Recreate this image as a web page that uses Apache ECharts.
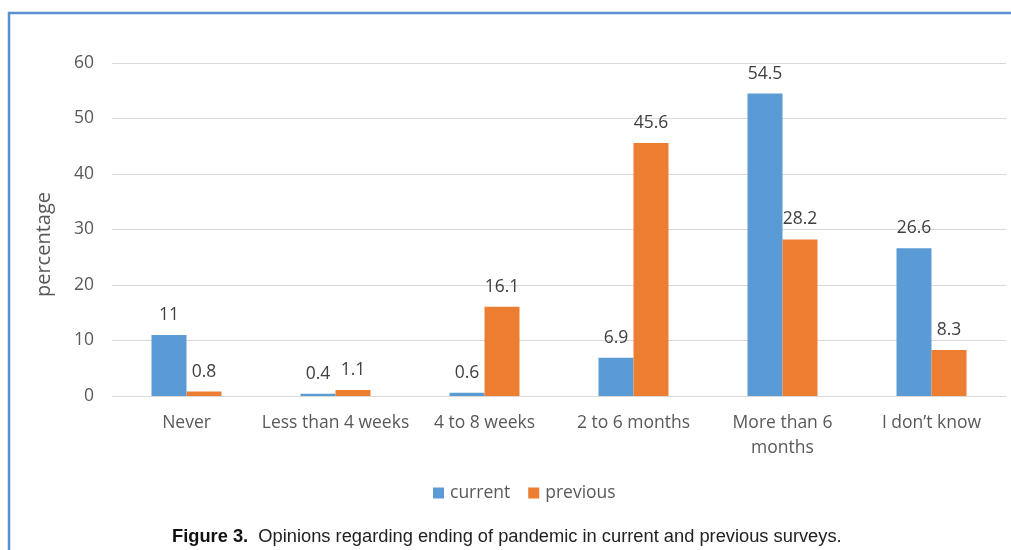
<!DOCTYPE html>
<html>
<head>
<meta charset="utf-8">
<script src="https://cdn.jsdelivr.net/npm/echarts@6/dist/echarts.min.js"></script>
<style>
  html, body { margin: 0; padding: 0; background: #fff; }
  #chart { width: 1011px; height: 550px; }
</style>
</head>
<body>
<div id="chart"></div>
<script>
// survey answers
const categories = ['Never', 'Less than 4 weeks', '4 to 8 weeks', '2 to 6 months', 'More than 6 months', 'I don\u2019t know'];
const currentValues = [11, 0.4, 0.6, 6.9, 54.5, 26.6];
const previousValues = [0.8, 1.1, 16.1, 45.6, 28.2, 8.3];
const seriesNames = ['current', 'previous'];
const yTicks = [0, 10, 20, 30, 40, 50, 60];

const textColor = '#595959';
const baseFont = '"Open Sans", "Noto Sans", sans-serif';

const chart = echarts.init(document.getElementById('chart'));

const labelStyle = {
    show: true,
    position: 'top',
    distance: 11,
    color: '#404040',
    fontSize: 17.5,
    fontFamily: baseFont
};

const option = {
    animation: false,
    textStyle: { fontFamily: baseFont },
    grid: { left: 112, right: 5, top: 63, bottom: 154 },
    legend: {
        data: seriesNames,
        bottom: 43,
        left: 428,
        itemWidth: 11,
        itemHeight: 11,
        itemGap: 18,
        icon: 'rect',
        textStyle: { color: textColor, fontSize: 17.5, fontFamily: baseFont, padding: [0, 0, 0, 1] }
    },
    xAxis: {
        type: 'category',
        data: categories,
        axisLine: { lineStyle: { color: '#d9d9d9', width: 1 } },
        axisTick: { show: false },
        axisLabel: {
            color: textColor,
            fontSize: 17.5,
            margin: 15,
            lineHeight: 25,
            interval: 0,
            formatter: v => v === 'More than 6 months' ? 'More than 6\nmonths' : v
        }
    },
    yAxis: {
        type: 'value',
        min: yTicks[0],
        max: yTicks[yTicks.length - 1],
        interval: 10,
        name: 'percentage',
        nameLocation: 'middle',
        nameGap: 58,
        nameTextStyle: { color: textColor, fontSize: 20, fontFamily: baseFont, padding: [0, 30, 0, 0] },
        axisLine: { show: false },
        axisTick: { show: false },
        axisLabel: { color: textColor, fontSize: 17.5, margin: 18 },
        splitLine: { lineStyle: { color: '#d9d9d9', width: 1 } }
    },
    series: [
        {
            name: seriesNames[0],
            type: 'bar',
            data: currentValues,
            barWidth: 35,
            barGap: '0%',
            itemStyle: { color: '#5b9bd5' },
            label: labelStyle
        },
        {
            name: seriesNames[1],
            type: 'bar',
            data: previousValues,
            barWidth: 35,
            barGap: '0%',
            itemStyle: { color: '#ed7d31' },
            label: labelStyle
        }
    ],
    graphic: [
        {
            type: 'rect',
            shape: { x: 9, y: 13, width: 1100, height: 600 },
            style: { fill: 'none', stroke: '#5b8fd0', lineWidth: 2.5 },
            silent: true
        },
        {
            type: 'text',
            left: 172,
            top: 528,
            style: {
                text: '{b|Figure 3.}  Opinions regarding ending of pandemic in current and previous surveys.',
                fill: '#222',
                font: '18.3px "Liberation Sans", Arial, sans-serif',
                rich: {
                    b: { fontWeight: 'bold', fontSize: 18.3, fontFamily: '"Liberation Sans Narrow", "Liberation Sans", sans-serif', fill: '#111' }
                }
            }
        }
    ]
};

chart.setOption(option);
</script>
</body>
</html>
